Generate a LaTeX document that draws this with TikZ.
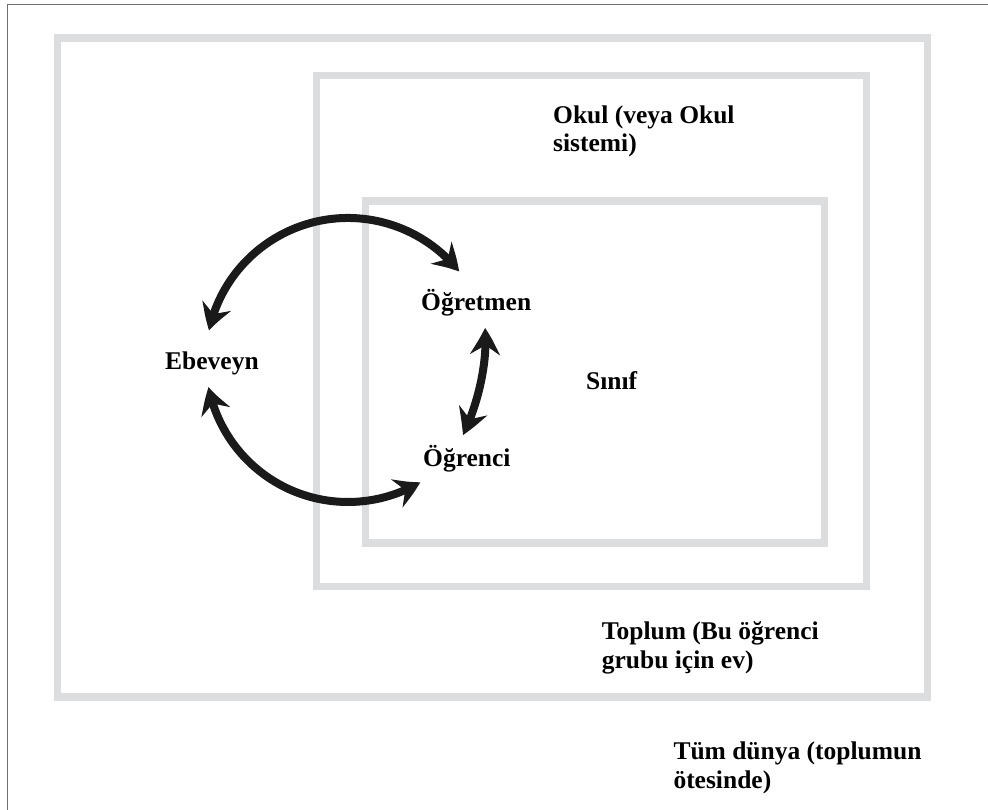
\documentclass[tikz,border=0pt]{standalone}
\usepackage{fontspec}
\setmainfont{Liberation Serif}[BoldFont={Liberation Serif Bold}]
\newfontfamily\lblfont{Liberation Serif Bold}
\usetikzlibrary{arrows.meta,bending}
\definecolor{boxgray}{HTML}{DCDDDF}
\definecolor{framegray}{HTML}{6E6E6E}
\definecolor{arrowblack}{HTML}{1A1A1A}
\begin{document}
\begin{tikzpicture}[x=1pt,y=-1pt,
  layer/.style={draw=boxgray, line width=7.5pt},
  frameline/.style={draw=framegray, line width=1.5pt},
  lbl/.style={font=\lblfont\fontsize{25.5}{28.7}\selectfont, inner sep=0pt, anchor=base west, align=left},
  link/.style={draw=arrowblack, line width=8pt,
    {Stealth[length=26pt,width=30pt,inset=9pt,bend]}-{Stealth[length=26pt,width=30pt,inset=9pt,bend]}}
]
\useasboundingbox (0,0) rectangle (988,810);
\fill[white] (0,0) rectangle (988,810);

% outer frame (cut at right and bottom)
\coordinate (fbl) at (7.5,812);
\coordinate (ftl) at (7.5,4.7);
\coordinate (ftr) at (990,4.7);
\draw[frameline] (fbl) -- (ftl) -- (ftr);

% nested boxes
\draw[layer] (57.5,38) rectangle (927.5,697);
\draw[layer] (316.7,75.5) rectangle (866.7,586.5);
\draw[layer] (365.5,201) rectangle (824.5,543);

% labels (multi-line nodes: base = last line's baseline)
\node[lbl] (okul) at (553,152) {Okul (veya Okul\\sistemi)};
\node[lbl] (toplum) at (601.7,668) {Toplum (Bu öğrenci\\grubu için ev)};
\node[lbl] (dunya) at (673.3,788) {Tüm dünya (toplumun\\ötesinde)};
\node[lbl] (ebeveyn) at (165,369.3) {Ebeveyn};
\node[lbl] (ogretmen) at (421,311) {Öğretmen};
\node[lbl] (ogrenci) at (423,466) {Öğrenci};
\node[lbl] (sinif) at (586,389) {Sınıf};

% arrows
\coordinate (ctr) at (348,360);
\coordinate (ebTop) at ([shift={(192:142)}]ctr);
\coordinate (ebBot) at ([shift={(169:142)}]ctr);
\coordinate (ogtIn) at (485,328);
\coordinate (ognIn) at (463,435);
\path[link] (ebTop) arc[start angle=192, end angle=321.5, radius=142];
\path[link] (ebBot) arc[start angle=169, end angle=59.4, radius=142];
\path[link] (ogtIn) .. controls (488,362) and (478,404) .. (ognIn);
\end{tikzpicture}
\end{document}
